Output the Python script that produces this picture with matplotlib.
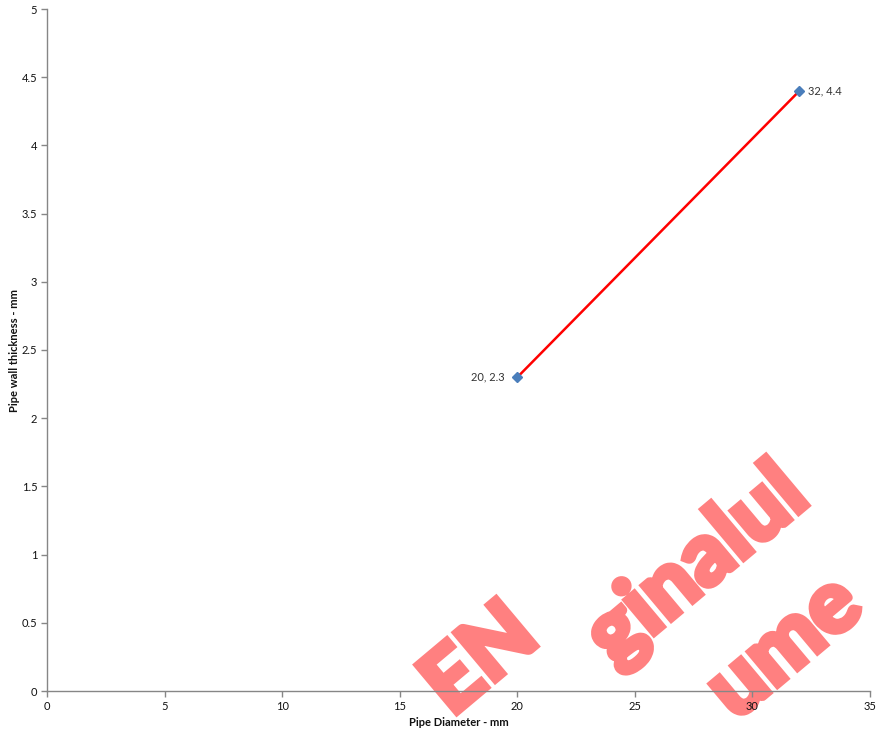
import matplotlib
matplotlib.use("Agg")
import matplotlib.pyplot as plt
import matplotlib.patheffects as pe

# ---- data ----
diameter_mm = [20, 32]
wall_thickness_mm = [2.3, 4.4]
point_labels = ["20, 2.3", "32, 4.4"]
x_ticks = [0, 5, 10, 15, 20, 25, 30, 35]
y_ticks = [0, 0.5, 1, 1.5, 2, 2.5, 3, 3.5, 4, 4.5, 5]
y_tick_labels = ["0", "0.5", "1", "1.5", "2", "2.5", "3", "3.5", "4", "4.5", "5"]
x_label = "Pipe Diameter - mm"
y_label = "Pipe wall thickness - mm"
watermark_parts = ["EN", "ginalul", "ume"]

W, H, DPI = 876, 735, 100
plt.rcParams['font.family'] = ['Lato', 'DejaVu Sans']

fig = plt.figure(figsize=(W / DPI, H / DPI), dpi=DPI)
fig.patch.set_facecolor('white')

# watermark (behind the chart)
wm_color = '#FF8080'
wm_kw = dict(color=wm_color, fontsize=63, fontweight='black', rotation=40,
             rotation_mode='anchor', va='baseline', ha='right', zorder=-5,
             family=['Lato', 'DejaVu Sans'],
             path_effects=[pe.Stroke(linewidth=4, foreground=wm_color,
                                     joinstyle='miter'), pe.Normal()])
def px(x, y):
    return x / W, 1 - y / H
fig.text(*px(542, 642), watermark_parts[0], **wm_kw)
fig.text(*px(812, 502), watermark_parts[1], **wm_kw)
fig.text(*px(866, 612), watermark_parts[2], **wm_kw)

ax = fig.add_axes([47 / W, 1 - 691 / H, (870 - 47) / W, (691 - 9) / H])
ax.patch.set_alpha(0)

ax.plot(diameter_mm, wall_thickness_mm, color='#FF0000', lw=1.8, zorder=2)
ax.plot(diameter_mm, wall_thickness_mm, ls='none', marker='D', ms=5,
        mfc='#4A7EBB', mec='#4A7EBB', zorder=3)

ax.annotate(point_labels[0], (diameter_mm[0], wall_thickness_mm[0]),
            xytext=(-13, 0), textcoords='offset pixels', ha='right', va='center',
            fontsize=8, color='#333333')
ax.annotate(point_labels[1], (diameter_mm[1], wall_thickness_mm[1]),
            xytext=(9, 0), textcoords='offset pixels', ha='left', va='center',
            fontsize=8, color='#333333')

ax.set_xlim(0, 35)
ax.set_ylim(0, 5)
ax.set_xticks(x_ticks)
ax.set_yticks(y_ticks)
ax.set_yticklabels(y_tick_labels)

for s in ['top', 'right']:
    ax.spines[s].set_visible(False)
for s in ['left', 'bottom']:
    ax.spines[s].set_color('#868686')
    ax.spines[s].set_linewidth(1.0)
ax.tick_params(axis='both', direction='out', length=4, width=1, colors='#868686',
               labelcolor='#111111', labelsize=8, pad=3)

ax.set_xlabel(x_label, fontsize=8, fontweight='bold', color='#111111', labelpad=4)
ax.set_ylabel(y_label, fontsize=8, fontweight='bold', color='#111111')
ax.yaxis.set_label_coords(-(47 - 20) / (870 - 47), 0.5)

fig.savefig('out.png', dpi=DPI)
